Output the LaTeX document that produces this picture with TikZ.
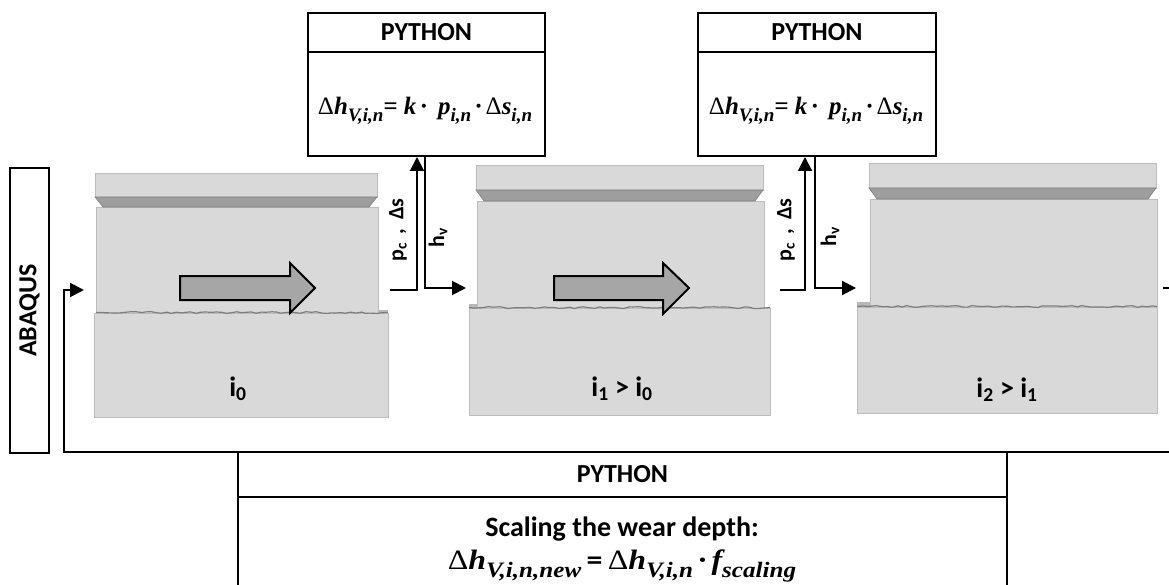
\documentclass[tikz,border=0pt]{standalone}
\usepackage{graphicx}
\usepackage{fontspec}
\newfontfamily\carlito{Carlito}
\newfontfamily\fserif{Liberation Serif}
\usetikzlibrary{arrows.meta,decorations.pathmorphing}

\definecolor{blockfill}{RGB}{217,217,217}
\definecolor{blockedge}{RGB}{188,188,188}
\definecolor{bevelfill}{RGB}{158,158,158}
\definecolor{slidefill}{RGB}{166,166,166}
\definecolor{roughline}{RGB}{125,125,125}

% upright delta inside bold italic formulas
\newcommand\updelta{{\upshape\mdseries Δ}}
% lowered index at a given size
\newcommand\lowsub[2]{\raisebox{-0.28em}{\fontsize{#1}{#1}\selectfont #2}}

\begin{document}
\begin{tikzpicture}[x=1pt,y=-1pt,
  box/.style={draw, line width=2.6pt, inner sep=0pt},
  hdrfont/.style={font=\carlito\bfseries\fontsize{26}{30}\selectfont},
  lblfont/.style={font=\carlito\bfseries\fontsize{22}{26}\selectfont},
  idxfont/.style={font=\carlito\bfseries\fontsize{28}{32}\selectfont},
  eqfont/.style={font=\fserif\bfseries\itshape\fontsize{25}{29}\selectfont},
  bigeqfont/.style={font=\fserif\bfseries\itshape\fontsize{28}{32}\selectfont},
  flow/.style={line width=2pt, -{Triangle[length=14pt,width=14pt]}},
  wire/.style={line width=2pt},
  plate/.style={fill=blockfill, draw=blockedge, line width=0.8pt},
  bevel/.style={fill=bevelfill, draw=bevelfill!80!black, line width=0.6pt},
  slide/.style={fill=slidefill, draw=black, line width=2pt, line join=miter},
  rough/.style={draw=roughline, line width=1.2pt, decorate,
    decoration={random steps, segment length=5pt, amplitude=1pt}}]

\useasboundingbox (0,0) rectangle (1169,585);
\clip (0,0) rectangle (1169,585);

% ---------- block i0 ----------
\draw[plate] (94,313) rectangle (388,417);
\draw[plate] (96,207) rectangle (378,313);
\draw[plate] (95,173) rectangle (377,197);
\draw[bevel] (95,197) -- (377,197) -- (369,207) -- (103,207) -- cycle;
\fill[blockfill!85!black] (378,310) rectangle (388,313);
\pgfmathsetseed{11}
\draw[rough] (96,312.5) -- (388,312.5);
\draw[slide] (180,276) -- (290,276) -- (290,263) -- (315,288) -- (290,313)
  -- (290,300) -- (180,300) -- cycle;
\node[idxfont] (it0) at (238,389) {i\textsubscript{0}};

% ---------- block i1 ----------
\draw[plate] (469,308) rectangle (770,415);
\draw[plate] (477,201) rectangle (764,308);
\draw[plate] (476,165) rectangle (763,190);
\draw[bevel] (476,190) -- (763,190) -- (755,201) -- (484,201) -- cycle;
\fill[blockfill!85!black] (469,304) rectangle (477,308);
\pgfmathsetseed{23}
\draw[rough] (469,307.5) -- (770,307.5);
\draw[slide] (554,276) -- (663,276) -- (663,263) -- (689,288) -- (663,314)
  -- (663,300) -- (554,300) -- cycle;
\node[idxfont] (it1) at (622,389) {i\textsubscript{1} > i\textsubscript{0}};

% ---------- block i2 ----------
\draw[plate] (857,307) rectangle (1157,413);
\draw[plate] (870,199) rectangle (1157,307);
\draw[plate] (869,163) rectangle (1156,188);
\draw[bevel] (869,188) -- (1156,188) -- (1148,199) -- (877,199) -- cycle;
\fill[blockfill!85!black] (857,302) rectangle (870,307);
\pgfmathsetseed{37}
\draw[rough] (857,306.5) -- (1157,306.5);
\node[idxfont] (it2) at (1007,390) {i\textsubscript{2} > i\textsubscript{1}};

% ---------- ABAQUS frame ----------
\node[box, rotate=90, minimum width=285pt, minimum height=39pt, hdrfont]
  (abq) at (29.5,310.5) {ABAQUS};

% ---------- PYTHON boxes (wear law) ----------
\node[box, minimum width=237pt, minimum height=39pt, hdrfont]
  (py1h) at (426.5,32.5) {PYTHON};
\node[box, minimum width=237pt, minimum height=104pt] (py1b) at (426.5,104) {};
\node[eqfont] (eq1) at (425,111)
  {\updelta h\lowsub{19}{V,i,n}= k\,·\;\,p\lowsub{19}{i,n}\,·\,\updelta s\lowsub{19}{i,n}};

\node[box, minimum width=238pt, minimum height=39pt, hdrfont]
  (py2h) at (817,32.5) {PYTHON};
\node[box, minimum width=238pt, minimum height=104pt] (py2b) at (817,104) {};
\node[eqfont] (eq2) at (816,111)
  {\updelta h\lowsub{19}{V,i,n}= k\,·\;\,p\lowsub{19}{i,n}\,·\,\updelta s\lowsub{19}{i,n}};

% ---------- PYTHON box (scaling) ----------
\node[box, minimum width=769pt, minimum height=45pt, hdrfont]
  (py3h) at (622.5,474.5) {PYTHON};
\node[box, minimum width=769pt, minimum height=123pt] (py3b) at (622.5,558.5) {};
\node[font=\carlito\bfseries\fontsize{28}{32}\selectfont] (sc1) at (622,529)
  {Scaling the wear depth:};
\node[bigeqfont] (sc2) at (622,566)
  {\scalebox{1.14}[1]{\updelta h\lowsub{22}{V,i,n,new}\,{\upshape\carlito =}\,\updelta h\lowsub{22}{V,i,n}\,·\,f\lowsub{22}{scaling}}};

% ---------- data flow ----------
\coordinate (fbR) at (1169,452);
\coordinate (fbL) at (64,452);
\coordinate (in0) at (84,290);
\draw[flow] (fbR) -- (fbL) |- (in0);

\coordinate (out0) at (390,290);
\coordinate (up1) at (417,157);
\coordinate (dn1) at (425,157);
\coordinate (in1) at (466,288);
\draw[flow] (out0) -| (up1);
\draw[flow] (dn1) |- (in1);

\coordinate (out1) at (780,290);
\coordinate (up2) at (805,157);
\coordinate (dn2) at (815,157);
\coordinate (in2) at (856,288);
\draw[flow] (out1) -| (up2);
\draw[flow] (dn2) |- (in2);

\coordinate (out2) at (1163,288);
\coordinate (exit) at (1172,288);
\draw[wire] (out2) -- (exit);

% ---------- flow labels ----------
\node[rotate=90, lblfont] (pc1) at (398,230) {p\textsubscript{c}\, ,\, Δs};
\node[rotate=90, lblfont] (hv1) at (438,238) {h\textsubscript{v}};
\node[rotate=90, lblfont] (pc2) at (786,230) {p\textsubscript{c}\, ,\, Δs};
\node[rotate=90, lblfont] (hv2) at (830,237) {h\textsubscript{v}};
\end{tikzpicture}
\end{document}
